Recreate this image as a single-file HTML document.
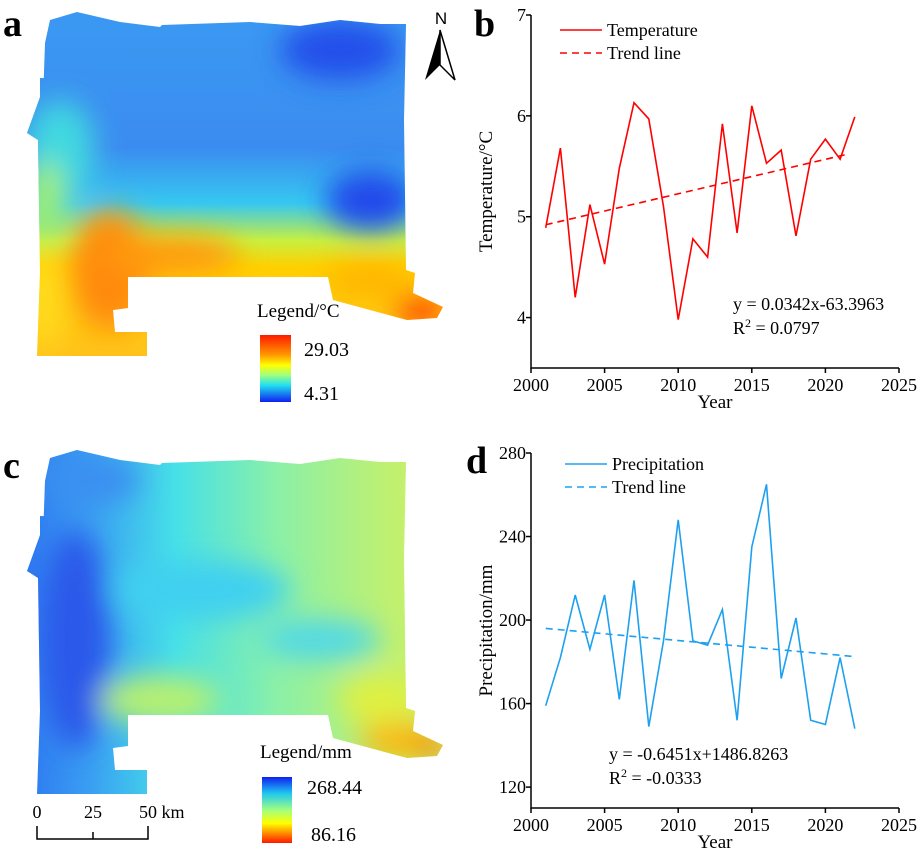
<!DOCTYPE html>
<html><head><meta charset="utf-8"><style>
html,body{margin:0;padding:0;background:#fff;}
svg{display:block;font-family:"Liberation Serif",serif;}
</style></head><body>
<svg id="fig" width="920" height="850" viewBox="0 0 920 850" xmlns="http://www.w3.org/2000/svg">
<defs>
<clipPath id="clipA"><path id="shapeA" d="M45,43 L50,20 L77,12 L120,22 L160,27 L162,25 L250,22 L300,26 L340,20 L380,24 L406,24 L404,120 L406,270 L415,273 L413,293 L443,307 L437,318 L407,320 L333,300 L328,277 L128,277 L128,308 L113,310 L115,332 L147,332 L147,356 L37,356 L40,273 L38,140 L27,133 L40,97 L40,78 L110,80 L110,102 L43,100 L45,43 Z"/></clipPath>
<clipPath id="clipC"><use href="#shapeA" transform="translate(0,438)"/></clipPath>
<filter id="blur" x="-60%" y="-60%" width="220%" height="220%"><feGaussianBlur stdDeviation="14"/></filter>
<linearGradient id="gA" x1="0" y1="0" x2="0" y2="1">
<stop offset="0" stop-color="#3a9af2"/><stop offset="0.4" stop-color="#3b8cf0"/><stop offset="0.55" stop-color="#36c8f0"/><stop offset="0.65" stop-color="#c8f040"/><stop offset="0.72" stop-color="#ffd000"/><stop offset="1" stop-color="#ffc020"/>
</linearGradient>
<linearGradient id="gC" x1="0" y1="0" x2="1" y2="0">
<stop offset="0" stop-color="#2a6af0"/><stop offset="0.2" stop-color="#3aa0f2"/><stop offset="0.38" stop-color="#46e0e8"/><stop offset="0.6" stop-color="#8af0a8"/><stop offset="0.85" stop-color="#c0f070"/><stop offset="1" stop-color="#d0f060"/>
</linearGradient>
<linearGradient id="cbT" x1="0" y1="0" x2="0" y2="1">
<stop offset="0" stop-color="#ff1a00"/><stop offset="0.3" stop-color="#ff9a00"/><stop offset="0.45" stop-color="#ffff00"/><stop offset="0.6" stop-color="#a0ff80"/><stop offset="0.75" stop-color="#20e0f0"/><stop offset="1" stop-color="#1020f0"/>
</linearGradient>
<linearGradient id="cbP" x1="0" y1="0" x2="0" y2="1">
<stop offset="0" stop-color="#1020f0"/><stop offset="0.25" stop-color="#20c8f0"/><stop offset="0.5" stop-color="#a0ff80"/><stop offset="0.7" stop-color="#ffff00"/><stop offset="1" stop-color="#ff1a00"/>
</linearGradient>
</defs>

<g>
<g clip-path="url(#clipA)">
<rect x="0" y="0" width="460" height="370" fill="url(#gA)"/>
<g filter="url(#blur)">
<ellipse cx="340" cy="50" rx="60" ry="30" fill="#2050ea"/>
<ellipse cx="370" cy="200" rx="45" ry="30" fill="#2048ea"/>
<ellipse cx="60" cy="150" rx="35" ry="50" fill="#40d8e0"/>
<ellipse cx="45" cy="200" rx="20" ry="40" fill="#a0f070"/>
<ellipse cx="110" cy="270" rx="40" ry="60" fill="#ff8a10"/>
<ellipse cx="170" cy="255" rx="70" ry="20" fill="#ff9a10"/>
<ellipse cx="45" cy="300" rx="14" ry="50" fill="#ffe020"/>
<ellipse cx="370" cy="280" rx="45" ry="15" fill="#ffb000"/>
<ellipse cx="420" cy="310" rx="26" ry="12" fill="#ff2000"/>
</g>
</g>
</g>
<text x="3" y="36" font-size="38" font-weight="bold">a</text>
<g>
<text x="441" y="24" font-size="17" text-anchor="middle" font-family="Liberation Sans,sans-serif">N</text>
<path d="M440,30 L425,80 L440,65 Z" fill="#000"/>
<path d="M440,30 L455,80 L440,65 Z" fill="#fff" stroke="#000" stroke-width="1.5"/>
</g>
<text x="257" y="317" font-size="19">Legend/°C</text>
<rect x="260" y="335" width="31" height="67" fill="url(#cbT)"/>
<text x="304" y="356" font-size="20">29.03</text>
<text x="304" y="400" font-size="20">4.31</text>

<g>
<g clip-path="url(#clipC)">
<rect x="0" y="440" width="460" height="370" fill="url(#gC)"/>
<g filter="url(#blur)">
<ellipse cx="75" cy="640" rx="35" ry="110" fill="#2a58ea"/>
<ellipse cx="90" cy="480" rx="50" ry="25" fill="#3a90f0"/>
<ellipse cx="200" cy="590" rx="90" ry="30" fill="#40d0f0"/>
<ellipse cx="320" cy="640" rx="60" ry="20" fill="#50d8e8"/>
<ellipse cx="160" cy="700" rx="60" ry="25" fill="#b8f070"/>
<ellipse cx="380" cy="700" rx="40" ry="25" fill="#e0f040"/>
<ellipse cx="400" cy="740" rx="40" ry="16" fill="#ffb000"/>
<ellipse cx="432" cy="748" rx="15" ry="8" fill="#ff3010"/>
</g>
</g>
</g>
<text x="3" y="478" font-size="38" font-weight="bold">c</text>
<text x="260" y="758" font-size="19">Legend/mm</text>
<rect x="262" y="777" width="30" height="66" fill="url(#cbP)"/>
<text x="307" y="794" font-size="20">268.44</text>
<text x="311" y="841" font-size="20">86.16</text>
<g stroke="#000" stroke-width="1.5" fill="none">
<path d="M37,826 L37,839 L148,839 L148,826 M93,832 L93,839"/>
</g>
<text x="37" y="818" font-size="18" text-anchor="middle">0</text>
<text x="93" y="818" font-size="18" text-anchor="middle">25</text>
<text x="139" y="818" font-size="18">50 km</text>

<text x="474" y="36" font-size="38" font-weight="bold">b</text>
<text x="466" y="473" font-size="38" font-weight="bold">d</text>
<g id="chartB"></g>
<g id="chartD"></g>
</svg>
<script>
const years = [2001,2002,2003,2004,2005,2006,2007,2008,2009,2010,2011,2012,2013,2014,2015,2016,2017,2018,2019,2020,2021,2022];
const tempValues = [4.89,5.68,4.20,5.12,4.53,5.48,6.13,5.97,5.10,3.98,4.78,4.60,5.92,4.84,6.10,5.53,5.66,4.81,5.57,5.77,5.57,5.99];
const tempTrend = [[2001,4.92],[2021.5,5.62]];
const tempTicks = [4,5,6,7];
const precipValues = [159,182,212,186,212,162,219,149,190,248,190,188,205,152,235,265,172,201,152,150,182,148];
const precipTrend = [[2001,196],[2022,182.5]];
const precipTicks = [120,160,200,240,280];
const xTicks = [2000,2005,2010,2015,2020,2025];

const NS='http://www.w3.org/2000/svg';
function mk(parent,tag,attrs,txt){const e=document.createElementNS(NS,tag);for(const k in attrs)e.setAttribute(k,attrs[k]);if(txt!==undefined)e.textContent=txt;parent.appendChild(e);return e;}

function drawChart(gid,cfg){
  const g=document.getElementById(gid);
  const sx=v=>cfg.x0+(v-2000)/25*(cfg.x1-cfg.x0);
  const sy=v=>cfg.yB-(v-cfg.vmin)/(cfg.vmax-cfg.vmin)*(cfg.yB-cfg.yT);
  const ax=mk(g,'path',{d:`M${cfg.x0},${cfg.yT} L${cfg.x0},${cfg.yB} L${cfg.x1},${cfg.yB}`,stroke:'#000','stroke-width':1.5,fill:'none'});
  
  
  xTicks.forEach(t=>{
    mk(g,'line',{x1:sx(t),x2:sx(t),y1:cfg.yB,y2:cfg.yB+5,stroke:'#000','stroke-width':1.5});
    const l=mk(g,'text',{x:sx(t),y:cfg.yB+23,'font-size':18,'text-anchor':'middle'},t);
    
    
  });
  cfg.ticks.forEach(t=>{
    mk(g,'line',{x1:cfg.x0-5,x2:cfg.x0,y1:sy(t),y2:sy(t),stroke:'#000','stroke-width':1.5});
    const l=mk(g,'text',{x:cfg.x0-5,y:sy(t)+6,'font-size':18,'text-anchor':'end'},t);
    
    
  });
  const xt=mk(g,'text',{x:(cfg.x0+cfg.x1)/2,y:cfg.yB+40,'font-size':19,'text-anchor':'middle'},'Year');
  
  
  const cy=(cfg.yT+cfg.yB)/2;
  const yt=mk(g,'text',{x:cfg.ytx,y:cy,'font-size':19,'text-anchor':'middle',transform:`rotate(-90 ${cfg.ytx} ${cy})`},cfg.ytitle);
  
  
  const pts=years.map((y,i)=>sx(y).toFixed(1)+','+sy(cfg.vals[i]).toFixed(1)).join(' ');
  const ln=mk(g,'polyline',{points:pts,fill:'none',stroke:cfg.color,'stroke-width':1.6});
  
  
  const tr=mk(g,'line',{x1:sx(cfg.trend[0][0]),y1:sy(cfg.trend[0][1]),x2:sx(cfg.trend[1][0]),y2:sy(cfg.trend[1][1]),stroke:cfg.color,'stroke-width':1.6,'stroke-dasharray':'7,5'});
  
  
  const lg=cfg.leg;
  const l1=mk(g,'line',{x1:lg.x,x2:lg.x+42,y1:lg.y,y2:lg.y,stroke:cfg.color,'stroke-width':1.6});
  
  
  mk(g,'text',{x:lg.x+47,y:lg.y+6,'font-size':18},cfg.name);
  const l2=mk(g,'line',{x1:lg.x,x2:lg.x+42,y1:lg.y+23,y2:lg.y+23,stroke:cfg.color,'stroke-width':1.6,'stroke-dasharray':'7,5'});
  
  
  mk(g,'text',{x:lg.x+47,y:lg.y+29,'font-size':18},'Trend line');
  const e1=mk(g,'text',{x:cfg.eq.x,y:cfg.eq.y,'font-size':18},cfg.eq.t);
  
  
  const e2=mk(g,'text',{x:cfg.eq.x,y:cfg.eq.y+24,'font-size':18});
  
  
  e2.innerHTML='R<tspan dy="-7" font-size="12">2</tspan><tspan dy="7"> = '+cfg.eq.r+'</tspan>';
}
drawChart('chartB',{x0:531,x1:899,yT:15,yB:368,vmin:3.5,vmax:7,ticks:tempTicks,vals:tempValues,trend:tempTrend,color:'#ff0000',ytitle:'Temperature/°C',ytx:492,name:'Temperature',leg:{x:560,y:30},eq:{x:733,y:310,t:'y = 0.0342x-63.3963',r:'0.0797'}});
drawChart('chartD',{x0:531,x1:899,yT:453,yB:808,vmin:110,vmax:280,ticks:precipTicks,vals:precipValues,trend:precipTrend,color:'#1ea0f0',ytitle:'Precipitation/mm',ytx:492,name:'Precipitation',leg:{x:565,y:464},eq:{x:609,y:760,t:'y = -0.6451x+1486.8263',r:'-0.0333'}});
</script>
</body></html>
